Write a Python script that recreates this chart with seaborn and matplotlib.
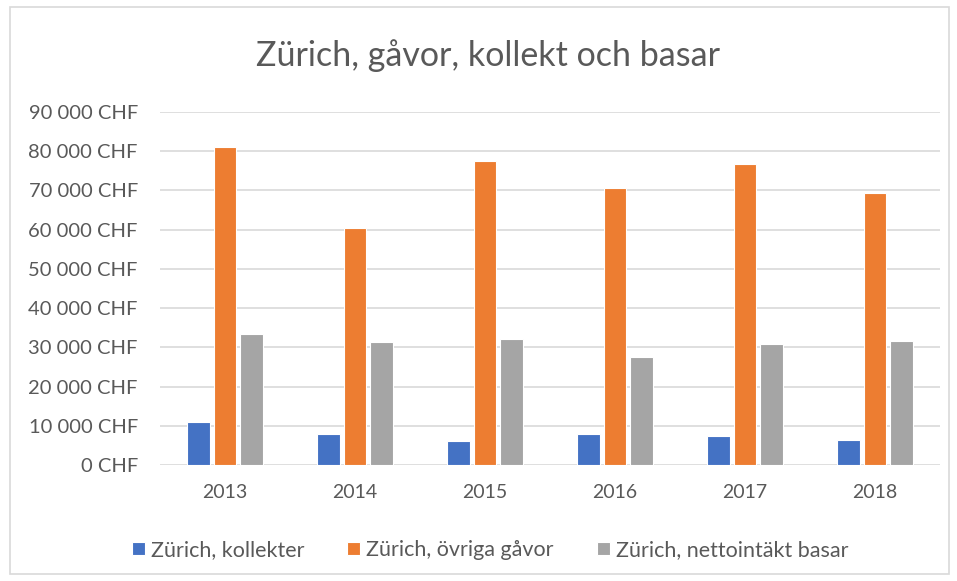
import matplotlib.pyplot as plt
import matplotlib.ticker as mticker
from matplotlib.patches import Rectangle
import pandas as pd
import seaborn as sns

years = ["2013", "2014", "2015", "2016", "2017", "2018"]
kollekter = [10850, 7800, 6200, 8000, 7500, 6400]
ovriga_gavor = [81000, 60400, 77500, 70600, 76800, 69300]
basar = [33500, 31400, 32100, 27500, 30800, 31700]
series = ["Zürich, kollekter", "Zürich, övriga gåvor", "Zürich, nettointäkt basar"]
colors = ["#4472C4", "#ED7D31", "#A5A5A5"]

df = pd.DataFrame({
    "year": years * 3,
    "value": kollekter + ovriga_gavor + basar,
    "serie": [s for s in series for _ in years],
})

sns.set_style("white")
plt.rcParams["font.family"] = ["Lato", "DejaVu Sans"]
text_col = "#595959"

fig = plt.figure(figsize=(9.57, 5.81), dpi=100)
ax = fig.add_axes([0.1672, 0.1997, 0.815, 0.6075])

sns.barplot(data=df, x="year", y="value", hue="serie", palette=colors,
            saturation=1, width=0.62, gap=0.15, edgecolor="white", linewidth=0.8,
            ax=ax, legend=True)

ax.set_ylim(0, 90000)
ax.set_yticks(range(0, 90001, 10000))
ax.yaxis.set_major_formatter(mticker.FuncFormatter(
    lambda v, p: "{:,.0f} CHF".format(v).replace(",", " ")))
ax.grid(axis="y", color="#D9D9D9", linewidth=1.2)
ax.set_axisbelow(True)
for s in ["top", "right", "left", "bottom"]:
    ax.spines[s].set_visible(False)
ax.tick_params(axis="both", length=0, labelcolor=text_col)
ax.tick_params(axis="y", pad=16, labelsize=14.5)
ax.tick_params(axis="x", pad=14, labelsize=14)
ax.set_xlabel("")
ax.set_ylabel("")

handles, labels = ax.get_legend_handles_labels()
ax.get_legend().remove()
fig.legend(handles, labels, loc="center", bbox_to_anchor=(0.512, 0.053), ncol=3,
           frameon=False, fontsize=15.5, labelcolor=text_col,
           handlelength=0.6, handleheight=0.6, handletextpad=0.28, columnspacing=2.0)

fig.text(0.51, 0.905, "Zürich, gåvor, kollekt och basar", ha="center", va="center",
         fontsize=24.5, color=text_col)

fig.patches.append(Rectangle((0.01, 0.012), 0.982, 0.976, transform=fig.transFigure,
                             fill=False, edgecolor="#D9D9D9", linewidth=1.2))

plt.savefig("out.png", dpi=100)
